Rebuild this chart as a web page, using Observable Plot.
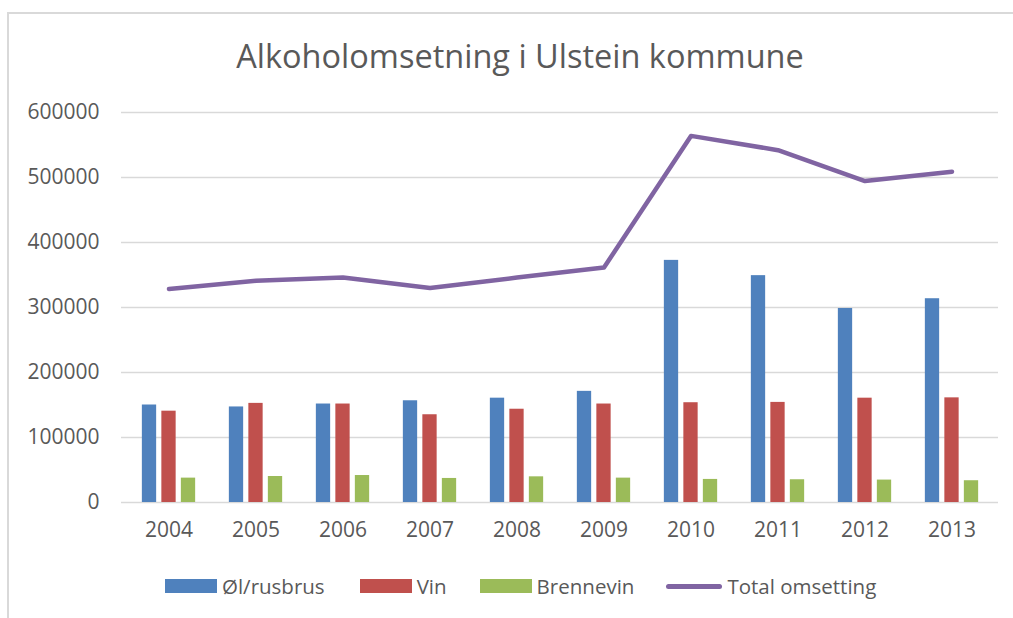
<!DOCTYPE html>
<html>
<head>
<meta charset="utf-8">
<script src="https://cdn.jsdelivr.net/npm/d3@7"></script>
<script src="https://cdn.jsdelivr.net/npm/@observablehq/plot@0.6"></script>
<style>
  html, body { margin: 0; padding: 0; background: #fff; width: 1013px; height: 618px; overflow: hidden; }
  body { position: relative; font-family: "Open Sans", "Noto Sans", sans-serif; color: #595959; }
  #frame { position: absolute; left: 7px; top: 12px; width: 1020px; height: 620px; border: 2px solid #d9d9d9; box-sizing: border-box; }
  #title { position: absolute; left: 0; width: 1040px; top: 36px; text-align: center; font-size: 32.5px; line-height: 1.2; }
  #chart { position: absolute; left: 0; top: 80px; }
  #legend { position: absolute; top: 572px; left: 165px; height: 28px; display: flex; align-items: center; font-size: 20.5px; }
  .item { display: flex; align-items: center; }
  .sw { width: 52px; height: 14px; margin-right: 5px; }
  .ln { width: 56px; height: 5px; border-radius: 3px; margin-right: 5px; }
</style>
</head>
<body>
<div id="frame"></div>
<div id="title">Alkoholomsetning i Ulstein kommune</div>
<div id="chart"></div>
<div id="legend"></div>
<script>
const years = ["2004","2005","2006","2007","2008","2009","2010","2011","2012","2013"];
const ol = [150000,147000,151500,156500,160500,171000,372500,349000,298500,313500];
const vin = [140500,152500,151500,135000,143500,151500,153500,154000,160500,161000];
const brennevin = [37500,40000,41500,37000,39500,37500,35500,35000,34500,33500];
const total = [328500,341000,346000,330000,346000,361500,564000,542000,494500,509000];
const yTicks = [0,100000,200000,300000,400000,500000,600000];
const seriesNames = ["Øl/rusbrus","Vin","Brennevin","Total omsetting"];
const colors = ["#4f81bd","#c0504d","#9bbb59","#8064a2"];

const rows = (vals) => years.map((y, i) => ({year: y, value: vals[i]}));
const step = 19.5, barW = 15;
const bandW = 877 / 10;
const inset = (bandW - barW) / 2;

const plot = Plot.plot({
  width: 1013,
  height: 470,
  marginLeft: 121,
  marginRight: 15,
  marginTop: 32,
  marginBottom: 48,
  style: {fontFamily: '"Open Sans", "Noto Sans", sans-serif', fontSize: "21px", color: "#595959", background: "transparent"},
  x: {type: "band", domain: years, padding: 0, label: null, tickSize: 0, tickPadding: 20},
  y: {domain: [0, 600000], ticks: yTicks, tickFormat: d => String(d), label: null, tickSize: 0, tickPadding: 22},
  marks: [
    Plot.gridY(yTicks, {stroke: "#d9d9d9", strokeOpacity: 1, strokeWidth: 1.5}),
    Plot.barY(rows(ol), {x: "year", y: "value", fill: colors[0], insetLeft: inset, insetRight: inset, dx: -step}),
    Plot.barY(rows(vin), {x: "year", y: "value", fill: colors[1], insetLeft: inset, insetRight: inset}),
    Plot.barY(rows(brennevin), {x: "year", y: "value", fill: colors[2], insetLeft: inset, insetRight: inset, dx: step}),
    Plot.lineY(rows(total), {x: "year", y: "value", stroke: colors[3], strokeWidth: 4.5, strokeLinecap: "round", strokeLinejoin: "round"})
  ]
});
document.getElementById("chart").appendChild(plot);

const legend = document.getElementById("legend");
const gaps = [35, 33, 32, 0];
seriesNames.forEach((name, i) => {
  const item = document.createElement("div");
  item.className = "item";
  item.style.marginRight = gaps[i] + "px";
  const sw = document.createElement("div");
  sw.className = i === 3 ? "ln" : "sw";
  sw.style.background = colors[i];
  const t = document.createElement("span");
  t.textContent = name;
  item.appendChild(sw);
  item.appendChild(t);
  legend.appendChild(item);
});
</script>
</body>
</html>
